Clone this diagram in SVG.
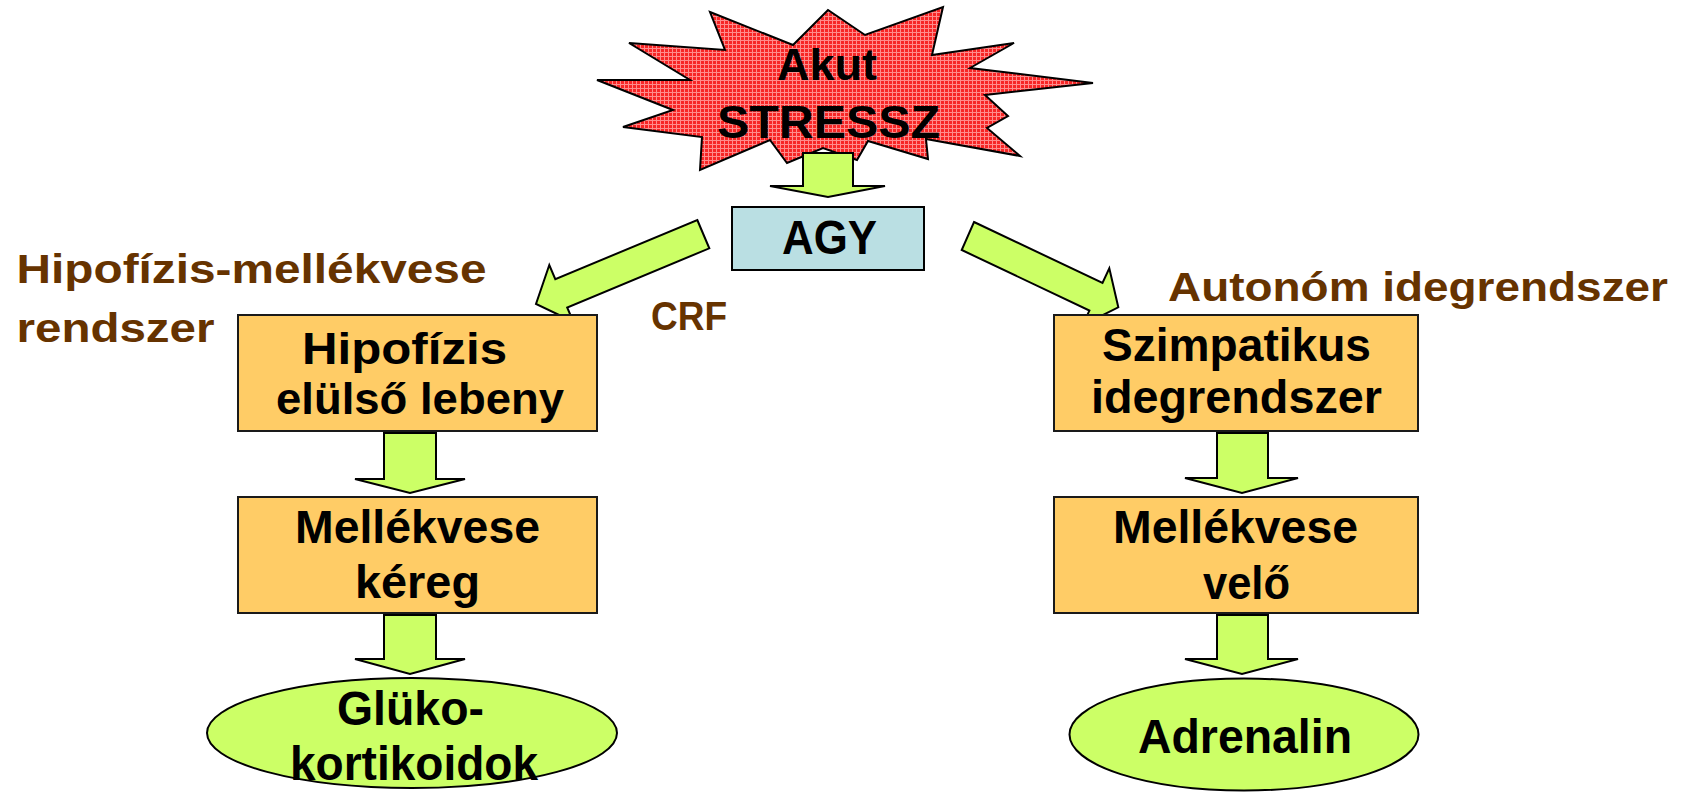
<svg xmlns="http://www.w3.org/2000/svg" width="1686" height="792" viewBox="0 0 1686 792">
<defs>
<pattern id="grid" width="4" height="4" patternUnits="userSpaceOnUse">
<rect width="4" height="4" fill="#F72626"/>
<path d="M0 0.5H4M0.5 0V4" stroke="#FF8C8C" stroke-width="1"/>
</pattern>
<style>
.t{font-family:"Liberation Sans",Arial,sans-serif;font-weight:bold;fill:#000}
.b{font-family:"Liberation Sans",Arial,sans-serif;font-weight:bold;fill:#663300}
.box{fill:#FFCC66;stroke:#1a1a1a;stroke-width:2}
.arr{fill:#CCFF66;stroke:#000;stroke-width:2;stroke-linejoin:miter}
.ell{fill:#CCFF66;stroke:#000;stroke-width:2}
</style>
</defs>
<rect width="1686" height="792" fill="#fff"/>

<g id="stress">
<polygon fill="url(#grid)" stroke="#000" stroke-width="2" points="710,12 793,45 828,10 865,35 943,7 932,55 1014,43 970,68 1093,83 985,95 1008,116 987,128 1020,156 926,139 928,159 868,141 857,160 823,148 787,163 770,140 700,170 702,137 623,127 673,110 597,80 690,80 629,43 725,50"/>
<text class="t" x="777" y="80" font-size="44" textLength="100" lengthAdjust="spacingAndGlyphs">Akut</text>
<text class="t" x="717" y="138" font-size="46" textLength="223" lengthAdjust="spacingAndGlyphs">STRESSZ</text>
</g>

<g id="connectors">
<polygon class="arr" points="803,153 853,153 853,186 885,186 828,197 770,186 803,186"/>
<polygon class="arr" points="697.3,220 709.3,248.3 567.2,307.5 573.2,321.7 536,304 549.3,265 555.3,279.2"/>
<polygon class="arr" points="974,222 1102.5,282.9 1109.3,268.3 1118.3,307.3 1082.5,325.2 1089.4,310.6 961.7,250"/>
<polygon class="arr" points="384,433 436,433 436,479 465,479 410,493 355,479 384,479"/>
<polygon class="arr" points="384,615 436,615 436,659 465,659 410,674 355,659 384,659"/>
<polygon class="arr" points="1217,433 1268,433 1268,478 1298,478 1242,493 1185,478 1217,478"/>
<polygon class="arr" points="1217,615 1268,615 1268,659 1298,659 1242,674 1185,659 1217,659"/>
</g>

<g id="agy">
<rect x="732" y="207" width="192" height="63" fill="#BADFE3" stroke="#000" stroke-width="2"/>
<text class="t" x="782" y="254" font-size="49" textLength="95" lengthAdjust="spacingAndGlyphs">AGY</text>
</g>

<g id="labels">
<text class="b" x="16.5" y="283" font-size="40" textLength="470" lengthAdjust="spacingAndGlyphs">Hipofízis-mellékvese</text>
<text class="b" x="16.5" y="342" font-size="40" textLength="198" lengthAdjust="spacingAndGlyphs">rendszer</text>
<text class="b" x="651" y="330" font-size="40" textLength="76" lengthAdjust="spacingAndGlyphs">CRF</text>
<text class="b" x="1168" y="301" font-size="40" textLength="500" lengthAdjust="spacingAndGlyphs">Autonóm idegrendszer</text>
</g>

<g id="hipofizis">
<rect class="box" x="238" y="315" width="359" height="116"/>
<text class="t" x="302" y="364" font-size="44" textLength="205" lengthAdjust="spacingAndGlyphs">Hipofízis</text>
<text class="t" x="276" y="414" font-size="44" textLength="288" lengthAdjust="spacingAndGlyphs">elülső lebeny</text>
</g>

<g id="kereg">
<rect class="box" x="238" y="497" width="359" height="116"/>
<text class="t" x="295" y="543" font-size="46" textLength="245" lengthAdjust="spacingAndGlyphs">Mellékvese</text>
<text class="t" x="355" y="598" font-size="46" textLength="125" lengthAdjust="spacingAndGlyphs">kéreg</text>
</g>

<g id="gluko">
<ellipse class="ell" cx="412" cy="733" rx="205" ry="55"/>
<text class="t" x="337" y="725" font-size="48" textLength="147" lengthAdjust="spacingAndGlyphs">Glüko-</text>
<text class="t" x="290" y="780" font-size="48" textLength="248" lengthAdjust="spacingAndGlyphs">kortikoidok</text>
</g>

<g id="szimpatikus">
<rect class="box" x="1054" y="315" width="364" height="116"/>
<text class="t" x="1102" y="361" font-size="46" textLength="269" lengthAdjust="spacingAndGlyphs">Szimpatikus</text>
<text class="t" x="1091" y="413" font-size="46" textLength="291" lengthAdjust="spacingAndGlyphs">idegrendszer</text>
</g>

<g id="velo">
<rect class="box" x="1054" y="497" width="364" height="116"/>
<text class="t" x="1113" y="543" font-size="46" textLength="245" lengthAdjust="spacingAndGlyphs">Mellékvese</text>
<text class="t" x="1203" y="599" font-size="46" textLength="87" lengthAdjust="spacingAndGlyphs">velő</text>
</g>

<g id="adrenalin">
<ellipse class="ell" cx="1244" cy="734.5" rx="174.5" ry="56"/>
<text class="t" x="1138" y="753" font-size="48" textLength="214" lengthAdjust="spacingAndGlyphs">Adrenalin</text>
</g>
</svg>
